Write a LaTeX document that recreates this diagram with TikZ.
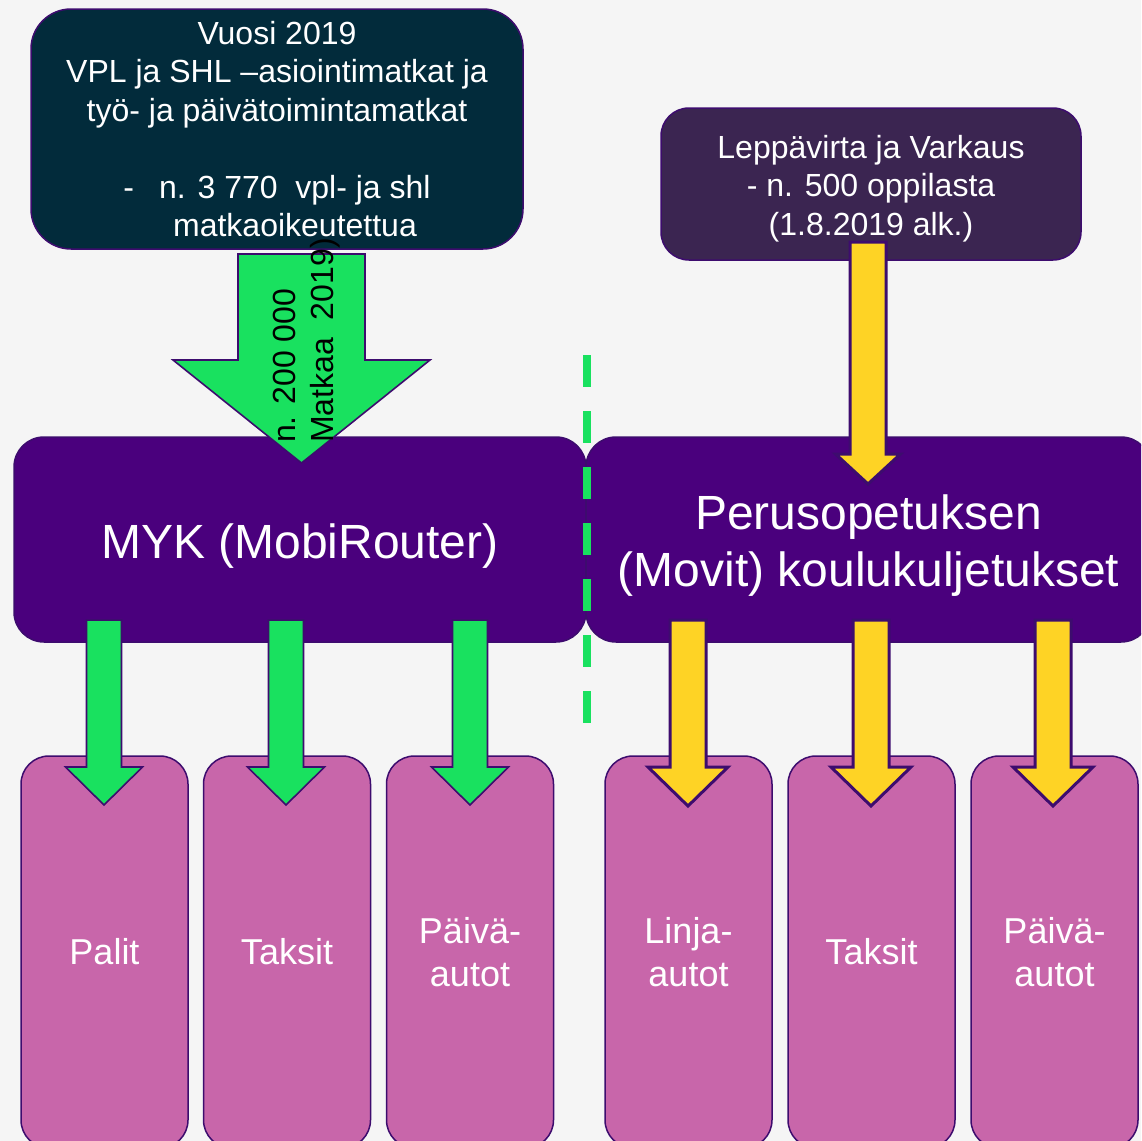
\documentclass[tikz,border=0pt]{standalone}
\usepackage{fontspec}
\setmainfont{Liberation Sans}
\definecolor{bgc}{HTML}{F5F5F5}
\definecolor{tealbox}{HTML}{022B3B}
\definecolor{plumbox}{HTML}{3B2551}
\definecolor{indbox}{HTML}{4A007D}
\definecolor{orchbox}{HTML}{C866AA}
\definecolor{bord}{HTML}{3D0C6E}
\definecolor{grn}{HTML}{19E15F}
\definecolor{ylw}{HTML}{FED325}
\newcommand\blockarr[7]{%
  \draw[#1] ({#2-#6},#3) -- ({#2+#6},#3) -- ({#2+#6},#4) -- ({#2+#7},#4) --
    (#2,#5) -- ({#2-#7},#4) -- ({#2-#6},#4) -- cycle;}
\begin{document}
\begin{tikzpicture}[x=1pt,y=-1pt,
  boxbase/.style={draw=bord, line width=1.5pt, inner sep=0pt, outer sep=0pt, text=white, align=center},
  topbox/.style={boxbase, rounded corners=40pt, font=\fontsize{32}{38.5}\selectfont},
  toptxt/.style={text=white, inner sep=0pt, align=center, font=\fontsize{32}{38.5}\selectfont},
  mainbox/.style={boxbase, fill=indbox, rounded corners=30pt, minimum height=205pt},
  subbox/.style={boxbase, fill=orchbox, rounded corners=28pt, minimum width=167pt, minimum height=392pt,
     font=\fontsize{36}{43}\selectfont},
  bigtxt/.style={text=white, inner sep=0pt, align=center, font=\fontsize{48}{57.5}\selectfont},
  garrow/.style={fill=grn, draw=bord, line width=1.6pt, line join=miter},
  yarrow/.style={fill=ylw, draw=bord, line width=3pt, line join=miter},
  rottxt/.style={rotate=90, anchor=base west, inner sep=0pt, text=black, font=\fontsize{32}{38}\selectfont},
  divider/.style={draw=grn, line width=8pt, dash pattern=on 32pt off 24pt}
]
\useasboundingbox (0,0) rectangle (1141,1141);
\fill[bgc] (0,0) rectangle (1141,1141);
\begin{scope}
\clip (0,0) rectangle (1141,1141);
% top boxes
\node[topbox, fill=tealbox, minimum width=492pt, minimum height=240pt] (src) at (277,129)
  {Vuosi 2019\\VPL ja SHL –asiointimatkat ja\\työ- ja päivätoimintamatkat\\\mbox{}\\
   -\hspace{25pt}n. 3 770\ \ vpl- ja shl\\\hspace*{36pt}matkaoikeutettua};
\node[topbox, fill=plumbox, rounded corners=28pt, minimum width=420pt, minimum height=152pt] (pupils) at (871,184) {};
\node[toptxt] (pupilstxt) at ([yshift=-4.5pt]pupils.center)
  {Leppävirta ja Varkaus\\- n. 500 oppilasta\\(1.8.2019 alk.)};
% main boxes
\node[mainbox, minimum width=572pt] (myk) at (300,539.5) {};
\node[mainbox, minimum width=565pt] (movit) at (868.5,539.5) {};
\node[bigtxt, anchor=base] (myktxt) at ([yshift=-19pt]myk.center) {MYK (MobiRouter)};
\node[bigtxt] (movittxt) at ([yshift=-6pt]movit.center) {Perusopetuksen\\(Movit) koulukuljetukset};
% bottom boxes
\node[subbox] (palit) at (104.5,952) {Palit};
\node[subbox] (taksit1) at (287,952) {Taksit};
\node[subbox] (paiva1) at (470,952) {Päivä-\\autot};
\node[subbox] (linja) at (688.5,952) {Linja-\\autot};
\node[subbox] (taksit2) at (871.5,952) {Taksit};
\node[subbox] (paiva2) at (1054.5,952) {Päivä-\\autot};
% block arrows
\blockarr{garrow}{301.5}{254}{360}{463}{63.5}{128.5}
\blockarr{yarrow}{868}{242}{454}{484}{18}{32.5}
\blockarr{garrow}{104}{620}{767}{805}{17.5}{38.5}
\blockarr{garrow}{286}{620}{767}{805}{17.5}{38.5}
\blockarr{garrow}{470}{620}{767}{805}{17.5}{38.5}
\blockarr{yarrow}{688}{620}{767}{806}{18}{40}
\blockarr{yarrow}{871}{620}{767}{806}{18}{40}
\blockarr{yarrow}{1053}{620}{767}{806}{18}{40}
% rotated label on big arrow
\node[rottxt] (trips1) at (295,443) {n. 200 000};
\node[rottxt] (trips2) at (333,443) {Matkaa\ \ 2019)};
% divider
\coordinate (dtop) at (587,355);
\coordinate (dbot) at (587,723);
\draw[divider] (dtop) -- (dbot);
\end{scope}
\end{tikzpicture}
\end{document}
